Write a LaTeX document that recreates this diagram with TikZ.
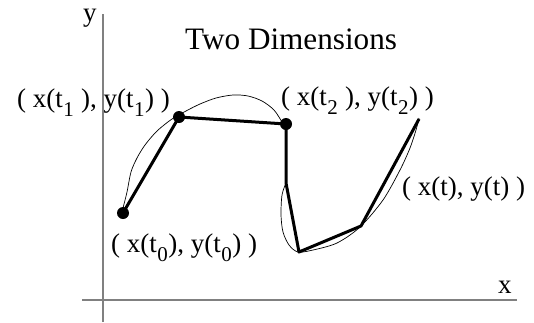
\documentclass[tikz,border=0pt]{standalone}
\usepackage{fontspec}
\setmainfont{Liberation Serif}
\definecolor{axisgray}{HTML}{808080}
\newcommand{\lowsub}[1]{\kern0.5pt\raisebox{-9pt}{\fontsize{21}{21}\selectfont #1}\kern0.5pt}
\tikzset{
  axisline/.style={draw=axisgray, line width=1.7pt},
  poly/.style={line width=3pt, line join=round},
  freehand/.style={line width=0.7pt},
  dotpt/.style={circle, fill=black, inner sep=0pt, minimum size=12pt},
  lbl/.style={font=\fontsize{27}{29}\selectfont, inner sep=0pt, anchor=base west},
  ttl/.style={font=\fontsize{31.2}{33}\selectfont, inner sep=0pt, anchor=base west},
}
\begin{document}
\begin{tikzpicture}[x=1pt,y=-1pt]
\useasboundingbox (0,0) rectangle (534,322);
% axes
\coordinate (yb) at (103,322); \coordinate (yt) at (103,14);
\coordinate (xl) at (82,300);  \coordinate (xr) at (517,300);
\draw[axisline] (yb) -- (yt);
\draw[axisline] (xl) -- (xr);
\node[lbl] (ylab) at (83,21) {y};
\node[lbl] (xlab) at (498,293) {x};
% title
\node[ttl] (title) at (185,49) {Two Dimensions};
% freehand curve
\draw[freehand] plot[smooth] coordinates {(123,208) (127,192) (131,172) (137,158) (145,145) (157,131) (172,119) (186,111) (200,104) (216,98) (233,95) (248,96) (262,101) (274,110) (282,122)};
\draw[freehand] plot[smooth] coordinates {(286,183) (282,195) (281,215) (283,232) (289,245) (298,252) (313,250) (337,243) (360,227) (383,200) (400,170) (410,148) (416,130) (419,118)};
% polyline
\node[dotpt] (p0) at (123,213) {};
\node[dotpt] (p1) at (179,117) {};
\node[dotpt] (p2) at (286,124) {};
\coordinate (q1) at (286,183);
\coordinate (q2) at (299,252);
\coordinate (q3) at (361,226);
\coordinate (q4) at (419,119);
\draw[poly] (p0.center) -- (p1.center) -- (p2.center) -- (q1) -- (q2) -- (q3) -- (q4);
% labels
\node[lbl] (l1) at (17,107) {( x(t\lowsub{1}\ ), y(t\lowsub{1}) )};
\node[lbl] (l0) at (111,252) {( x(t\lowsub{0}), y(t\lowsub{0}) )};
\node[lbl] (l2) at (281,105) {( x(t\lowsub{2}\ ), y(t\lowsub{2}) )};
\node[lbl] (lt) at (402,195) {( x(t), y(t) )};
\end{tikzpicture}
\end{document}
